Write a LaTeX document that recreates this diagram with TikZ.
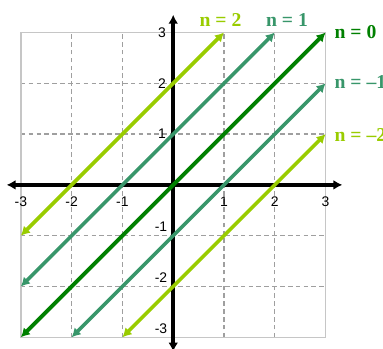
\documentclass[tikz,border=0pt]{standalone}
\usepackage{fontspec}
\setmainfont{Liberation Serif}
\setsansfont{Liberation Sans}
\usetikzlibrary{arrows.meta}

\definecolor{lzero}{RGB}{0,128,0}
\definecolor{lone}{RGB}{56,150,106}
\definecolor{ltwo}{RGB}{153,204,0}

\begin{document}
\begin{tikzpicture}[
  gridline/.style={draw=gray!75, dash pattern=on 2.6pt off 1.8pt, line width=0.7pt},
  frame/.style={draw=gray!45, line width=0.8pt},
  axis/.style={line width=2.3pt, {Latex[length=5pt,width=5.5pt]}-{Latex[length=5pt,width=5.5pt]}},
  sol/.style={line width=2pt, {Latex[length=5pt,width=5.5pt]}-{Latex[length=5pt,width=5.5pt]}},
  tick/.style={font=\sffamily\fontsize{7.8}{8}\selectfont, inner sep=0pt},
  lab/.style={font=\bfseries\fontsize{11}{12}\selectfont, inner sep=0pt}
]
\useasboundingbox (-3.41,-3.23) rectangle (4.13,3.64);

% grid
\foreach \k in {-2,...,2} {
  \draw[gridline] (\k,-3) -- (\k,3);
  \draw[gridline] (-3,\k) -- (3,\k);
}
\draw[frame] (-3,-3) rectangle (3,3);

% axes
\coordinate (xl) at (-3.28,0);
\coordinate (xr) at (3.33,0);
\coordinate (yb) at (0,-3.28);
\coordinate (yt) at (0,3.35);
\draw[axis] (xl) -- (xr);
\draw[axis] (yb) -- (yt);

% tick labels
\foreach \k in {-3,-2,-1,1,2,3}
  \node[tick] (x\k) at (\k,-0.33) {\k};
\foreach \k in {1,2,3}
  \node[tick] (y\k) at (-0.22,\k) {\k};
\foreach \k in {-1,-2,-3}
  \node[tick] (y\k) at (-0.24,\k+0.17) {\k};

% lines y = x + n
\coordinate (s2) at (-3,-1);  \coordinate (e2) at (1,3);
\coordinate (s1) at (-3,-2);  \coordinate (e1) at (2,3);
\coordinate (s0) at (-3,-3);  \coordinate (e0) at (3,3);
\coordinate (sm1) at (-2,-3); \coordinate (em1) at (3,2);
\coordinate (sm2) at (-1,-3); \coordinate (em2) at (3,1);
\draw[sol, ltwo] (s2) -- (e2);
\draw[sol, lone] (s1) -- (e1);
\draw[sol, lone] (sm1) -- (em1);
\draw[sol, ltwo] (sm2) -- (em2);
\draw[sol, lzero, line width=2.2pt] (s0) -- (e0);

% labels
\node[lab, text=ltwo] (n2) at (0.93,3.25) {n = 2};
\node[lab, text=lone] (n1) at (2.24,3.25) {n = 1};
\node[lab, text=lzero, anchor=west] (n0) at (3.17,3.0) {n = 0};
\node[lab, text=lone, anchor=west] (nm1) at (3.17,2.03) {n = –1};
\node[lab, text=ltwo, anchor=west] (nm2) at (3.17,0.98) {n = –2};
\end{tikzpicture}
\end{document}
